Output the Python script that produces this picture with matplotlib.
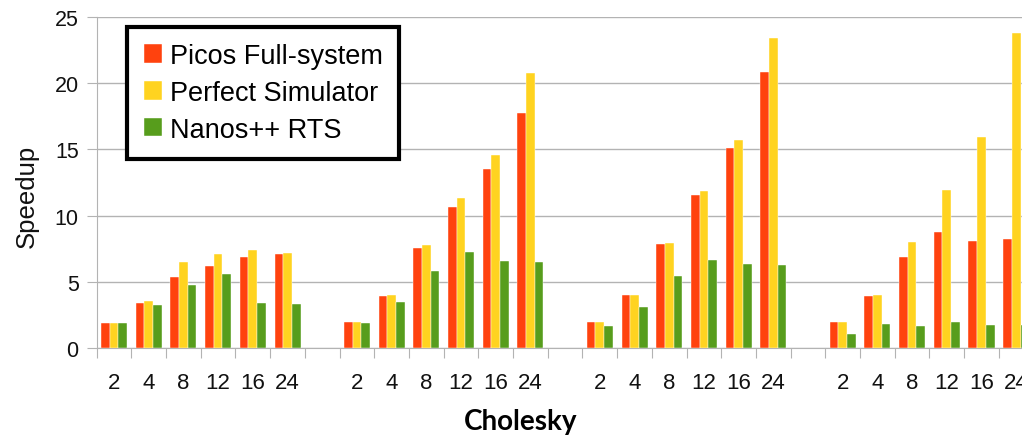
import numpy as np
import matplotlib
import matplotlib.pyplot as plt
from matplotlib.ticker import FixedLocator

matplotlib.use("Agg")

plt.rcParams["font.family"] = ["Liberation Sans", "DejaVu Sans"]

# thread counts, repeated for each of the four Cholesky runs
threads = ["2", "4", "8", "12", "16", "24"]
n_groups = 4

picos = [1.9, 3.45, 5.35, 6.2, 6.9, 7.1,
         2.0, 3.92, 7.54, 10.65, 13.5, 17.76,
         2.0, 4.0, 7.84, 11.56, 15.13, 20.8,
         2.0, 3.94, 6.88, 8.74, 8.12, 8.22]
perfect = [1.9, 3.6, 6.5, 7.1, 7.4, 7.2,
           2.0, 4.0, 7.79, 11.36, 14.57, 20.78,
           2.0, 4.0, 7.91, 11.83, 15.68, 23.37,
           2.0, 4.02, 7.99, 11.93, 15.9, 23.77]
nanos = [1.9, 3.3, 4.8, 5.6, 3.4, 3.35,
         1.9, 3.49, 5.83, 7.29, 6.56, 6.53,
         1.68, 3.14, 5.48, 6.68, 6.38, 6.26,
         1.1, 1.83, 1.71, 1.98, 1.73, 1.73]

series = [
    ("Picos Full-system", picos, "#ff420e"),
    ("Perfect Simulator", perfect, "#ffd320"),
    ("Nanos++ RTS", nanos, "#579d1c"),
]

# one empty slot between groups
slot = len(threads) + 1
pos = np.array([g * slot + i for g in range(n_groups) for i in range(len(threads))])
labels = threads * n_groups
n_slots = n_groups * slot - 1

# axes runs a bit past the right edge of the figure
fig = plt.figure(figsize=(10.22, 4.39), dpi=100)
ax = fig.add_axes([0.0946, 0.2043, 0.9167, 0.7554])

bw = 0.25
for k, (name, vals, col) in enumerate(series):
    ax.bar(pos + (k - 1) * bw, vals, bw, color=col, label=name,
           edgecolor="white", linewidth=0.3, zorder=3)

ax.set_xlim(-0.5, n_slots - 0.5)
ax.set_ylim(0, 25)
ax.set_yticks(range(0, 26, 5))
ax.yaxis.grid(True, color="#b3b3b3", linewidth=1.0, zorder=0)

ax.set_xticks(pos)
ax.set_xticklabels(labels, fontsize=16, color="#111111")
ax.xaxis.set_minor_locator(FixedLocator(np.arange(-0.5, n_slots, 1.0)))
ax.tick_params(axis="x", which="major", length=0, pad=17)
ax.tick_params(axis="x", which="minor", length=7, color="#b3b3b3", width=0.8)
ax.tick_params(axis="y", length=7, color="#b3b3b3", width=0.8, pad=6,
               labelsize=15.5, labelcolor="#111111")

for s in ["top", "right"]:
    ax.spines[s].set_visible(False)
for s in ["left", "bottom"]:
    ax.spines[s].set_color("#b3b3b3")
    ax.spines[s].set_linewidth(0.8)

ax.set_ylabel("Speedup", fontsize=18.5, color="#111111")
ax.yaxis.set_label_coords(-0.062, 0.46)
fig.text(0.509, 0.038, "Cholesky", fontsize=20, fontweight="bold",
         family=["Lato", "DejaVu Sans"], ha="center", va="center")

leg = ax.legend(loc="upper left", bbox_to_anchor=(0.0327, 0.97),
                borderaxespad=0, fontsize=19.5, fancybox=False, framealpha=1,
                handlelength=0.68, handleheight=0.68, handletextpad=0.3,
                labelspacing=0.4, borderpad=0.6)
leg.get_frame().set_edgecolor("black")
leg.get_frame().set_linewidth(3)
leg.set_zorder(5)

fig.savefig("out.png", dpi=100)
